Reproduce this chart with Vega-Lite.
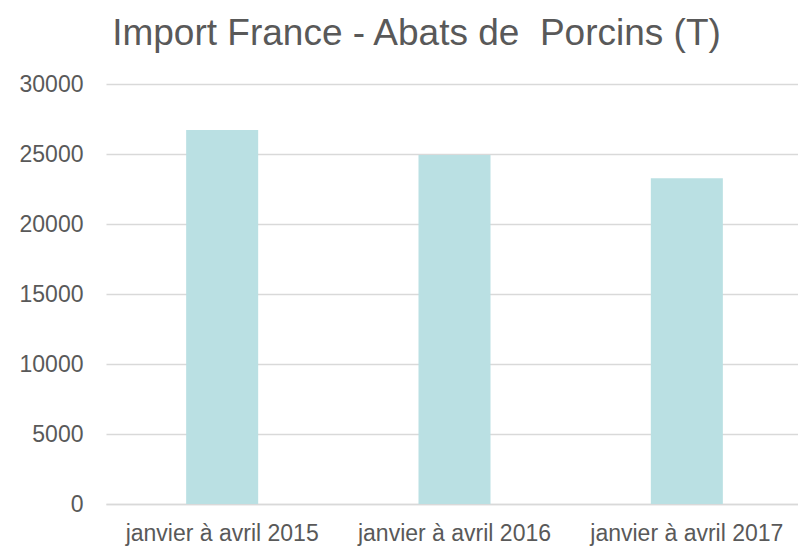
{
  "$schema": "https://vega.github.io/schema/vega-lite/v6.json",
  "width": 697,
  "height": 420,
  "autosize": {"type": "none"},
  "padding": {"left": 106, "top": 84, "right": 0, "bottom": 43},
  "background": "white",
  "title": {
    "text": "Import France - Abats de \u00a0Porcins (T)",
    "font": "Liberation Sans",
    "fontSize": 37,
    "fontWeight": "normal",
    "color": "#595959",
    "anchor": "middle",
    "dx": -38,
    "baseline": "alphabetic",
    "offset": -9
  },
  "data": {
    "values": [
      {"periode": "janvier à avril 2015", "tonnes": 26710},
      {"periode": "janvier à avril 2016", "tonnes": 24930},
      {"periode": "janvier à avril 2017", "tonnes": 23260}
    ]
  },
  "mark": {"type": "bar", "color": "#BAE0E3"},
  "encoding": {
    "x": {
      "field": "periode",
      "type": "nominal",
      "sort": null,
      "title": null,
      "scale": {"paddingInner": 0.69, "paddingOuter": 0.345},
      "axis": {
        "labelAngle": 0,
        "labelFont": "Liberation Sans",
        "labelFontSize": 23,
        "labelColor": "#595959",
        "labelPadding": 18,
        "labelLimit": 0,
        "ticks": false,
        "domainColor": "#D9D9D9",
        "domainWidth": 1.5,
        "grid": false
      }
    },
    "y": {
      "field": "tonnes",
      "type": "quantitative",
      "title": null,
      "scale": {"domain": [0, 30000], "nice": false},
      "axis": {
        "values": [0, 5000, 10000, 15000, 20000, 25000, 30000],
        "format": "d",
        "labelFont": "Liberation Sans",
        "labelFontSize": 23,
        "labelColor": "#595959",
        "labelPadding": 23,
        "ticks": false,
        "domain": false,
        "gridColor": "#D9D9D9",
        "gridWidth": 1.5
      }
    }
  },
  "config": {"view": {"stroke": null}}
}
